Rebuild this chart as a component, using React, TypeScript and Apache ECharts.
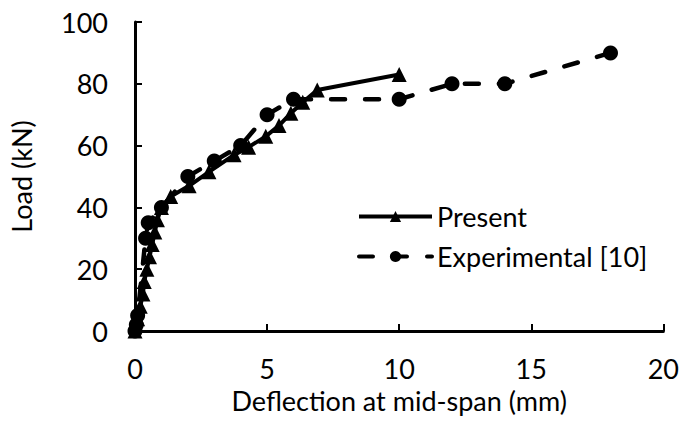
import React, { useEffect, useRef } from "react";
import * as echarts from "echarts";

const presentX = [0, 0.1, 0.2, 0.3, 0.35, 0.45, 0.55, 0.65, 0.75, 0.85, 1.0, 1.35, 2.05, 2.8, 3.75, 4.3, 4.95, 5.45, 5.9, 6.35, 6.9, 10];
const presentY = [0, 4, 8, 12, 16, 20, 24, 28, 32, 36, 40, 43.5, 47, 51.5, 57, 59.5, 63, 66.5, 70.5, 74, 78, 83];
const expX = [0, 0.05, 0.1, 0.4, 0.5, 1.0, 2.0, 3.0, 4.0, 5.0, 6.0, 10, 12, 14, 18];
const expY = [0, 2, 5, 30, 35, 40, 50, 55, 60, 70, 75, 75, 80, 80, 90];
const xTicks = [0, 5, 10, 15, 20];
const yTicks = [0, 20, 40, 60, 80, 100];
const seriesNames = ["Present", "Experimental [10]"];
const xTitle = "Deflection at mid-span (mm)";
const yTitle = "Load (kN)";

const FONT = "Lato";

export default function App() {
  const ref = useRef<HTMLDivElement>(null);
  useEffect(() => {
    const chart = echarts.init(ref.current!, null, { renderer: "svg" });
    const textStyle = { fontFamily: FONT, fontSize: 27, fontWeight: "normal", color: "#000" };
    chart.setOption({
      animation: false,
      backgroundColor: "#fff",
      grid: { left: 133, right: 15, top: 22, bottom: 92 },
      legend: {
        orient: "vertical",
        left: 352,
        top: 198,
        itemWidth: 73,
        itemHeight: 14,
        itemGap: 13,
        lineStyle: { width: 4 },
        textStyle: { ...textStyle },
        data: seriesNames,
      },
      xAxis: {
        type: "value",
        min: xTicks[0],
        max: xTicks[xTicks.length - 1],
        interval: 5,
        name: xTitle,
        nameLocation: "middle",
        nameGap: 50,
        nameTextStyle: { ...textStyle },
        axisLine: { lineStyle: { color: "#000", width: 3 } },
        axisTick: { inside: true, length: 7, lineStyle: { color: "#000", width: 2 } },
        axisLabel: { ...textStyle, margin: 24 },
        splitLine: { show: false },
      },
      yAxis: {
        type: "value",
        min: yTicks[0],
        max: yTicks[yTicks.length - 1],
        interval: 20,
        name: yTitle,
        nameLocation: "middle",
        nameGap: 100,
        nameTextStyle: { ...textStyle },
        axisLine: { show: true, lineStyle: { color: "#000", width: 3 } },
        axisTick: { show: true, inside: true, length: 7, lineStyle: { color: "#000", width: 2 } },
        axisLabel: { ...textStyle, margin: 27 },
        splitLine: { show: false },
      },
      series: [
        {
          name: seriesNames[0],
          type: "line",
          data: presentX.map((x, i) => [x, presentY[i]]),
          symbol: "triangle",
          symbolSize: 15,
          itemStyle: { color: "#000" },
          lineStyle: { color: "#000", width: 4 },
          z: 3,
        },
        {
          name: seriesNames[1],
          type: "line",
          data: expX.map((x, i) => [x, expY[i]]),
          symbol: "circle",
          symbolSize: 15,
          itemStyle: { color: "#000" },
          lineStyle: { color: "#000", width: 4.5, type: [14, 20], cap: "round" },
          z: 2,
        },
      ],
    });
    return () => chart.dispose();
  }, []);
  return <div ref={ref} style={{ width: 682, height: 423, position: "absolute", left: 0, top: 0 }} />;
}
